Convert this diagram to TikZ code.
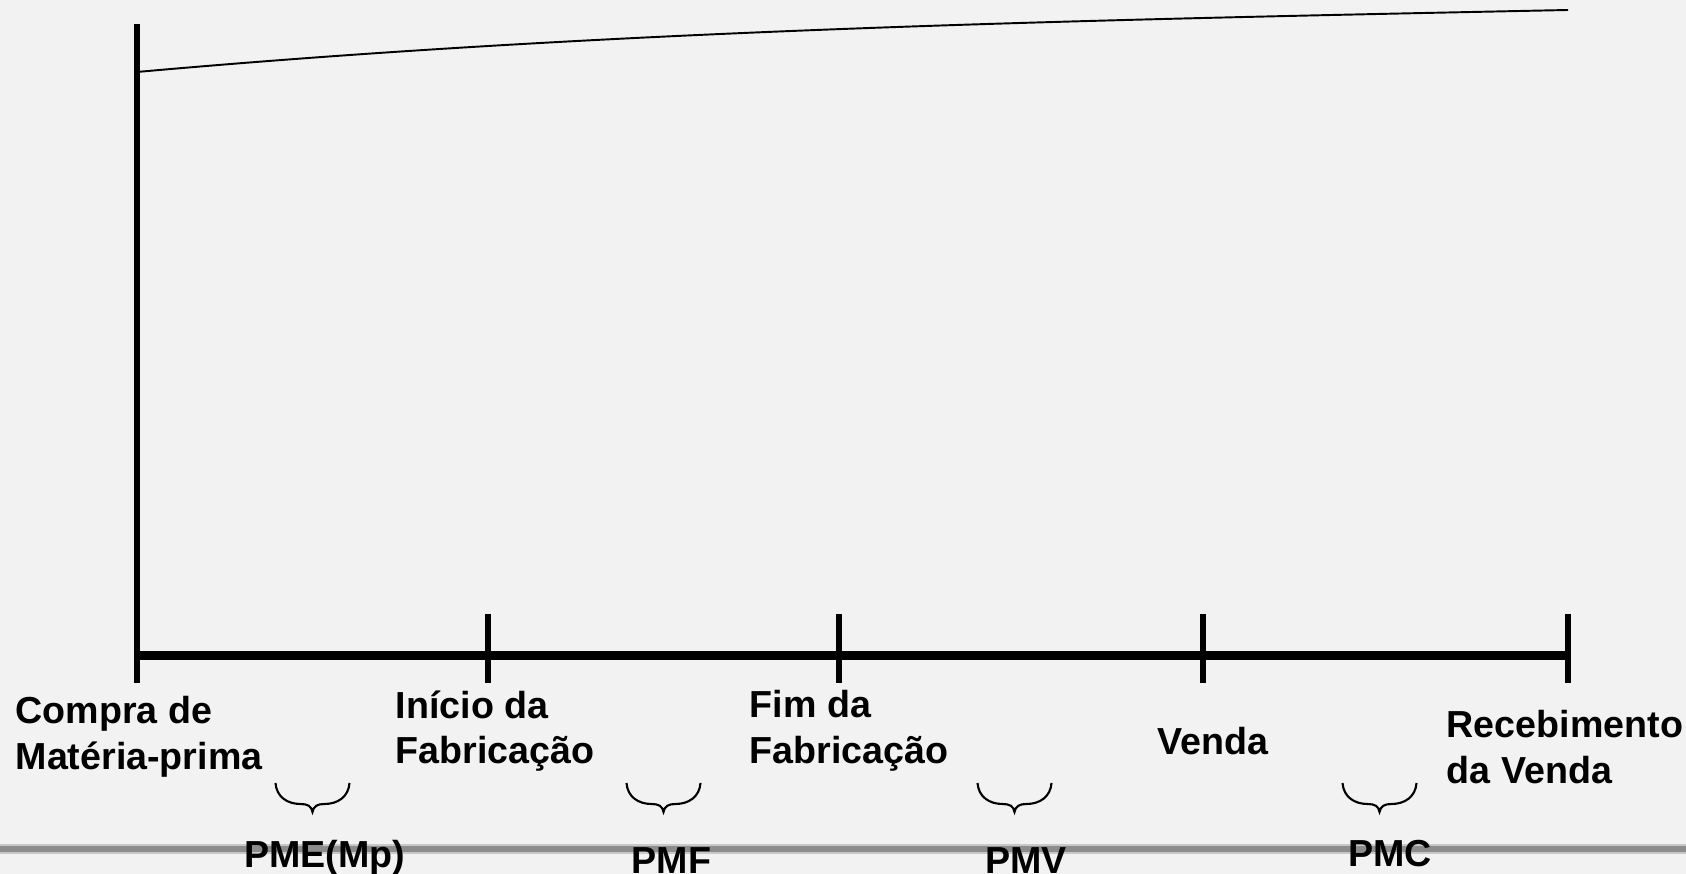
\documentclass[tikz,border=0pt]{standalone}
\usepackage{fontspec}
\setmainfont{Liberation Sans}
\usepackage{tikz}

\definecolor{fundo}{RGB}{242,242,242}
\definecolor{faixa}{RGB}{140,140,140}
\definecolor{faixaclara}{RGB}{200,200,200}

\begin{document}
\begin{tikzpicture}[x=0.01cm,y=-0.01cm,
    marco/.style={font=\bfseries\fontsize{10.7}{13}\selectfont, align=left, anchor=west, inner sep=0pt},
    prazo/.style={font=\bfseries\fontsize{10.7}{13}\selectfont, anchor=base, inner sep=0pt},
    eixo/.style={line width=0.09cm},
    marca/.style={line width=0.065cm},
    curva/.style={line width=0.55pt},
    chave/.pic={\draw[line width=0.6pt] (-37,0) .. controls (-36,14) and (-25,21) .. (-12,21)
        .. controls (-5,21) and (-1,23) .. (0,29) .. controls (1,23) and (5,21) .. (12,21)
        .. controls (25,21) and (36,14) .. (37,0);}]

    \fill[fundo] (0,0) rectangle (1686,874);
    \useasboundingbox (0,0) rectangle (1686,874);

    % faixa cinza de baixo
    \coordinate (f_0) at (0,849);
    \coordinate (f_1) at (1686,849);
    \draw[faixaclara, line width=0.1cm] (f_0) -- (f_1);
    \draw[faixa, line width=0.06cm] (f_0) -- (f_1);

    % eixos
    \coordinate (topo) at (137,24);
    \coordinate (t_0) at (137,656);
    \coordinate (t_1) at (488,656);
    \coordinate (t_2) at (839,656);
    \coordinate (t_3) at (1203,656);
    \coordinate (t_4) at (1568,656);
    \draw[eixo] (t_0) -- (t_4);
    \draw[marca] (topo) -- (137,683);
    \draw[marca] (t_1) ++(0,-42) -- ++(0,69);
    \draw[marca] (t_2) ++(0,-42) -- ++(0,69);
    \draw[marca] (t_3) ++(0,-42) -- ++(0,69);
    \draw[marca] (t_4) ++(0,-42) -- ++(0,69);

    % curva
    \coordinate (c_0) at (137,72);
    \coordinate (c_1) at (1568,10);
    \draw[curva] (c_0) .. controls (617,29) and (1088,20) .. (c_1);

    % marcos
    \node[marco] (l_0) at (15,737) {Compra de\\Matéria-prima};
    \node[marco] (l_1) at (395,731) {Início da\\Fabricação};
    \node[marco] (l_2) at (749,731) {Fim da\\Fabricação};
    \node[marco] (l_3) at (1157,741) {Venda};
    \node[marco] (l_4) at (1446,747) {Recebimento\\da Venda};

    % chaves
    \coordinate (b_0) at (312.5,783);
    \coordinate (b_1) at (663.5,783);
    \coordinate (b_2) at (1014.5,783);
    \coordinate (b_3) at (1379.5,783);
    \pic at (b_0) {chave};
    \pic at (b_1) {chave};
    \pic at (b_2) {chave};
    \pic at (b_3) {chave};

    % prazos
    \node[prazo] (p_0) at (324.5,867) {PME(Mp)};
    \node[prazo] (p_1) at (671.5,873) {PMF};
    \node[prazo] (p_2) at (1026,873) {PMV};
    \node[prazo] (p_3) at (1390,866) {PMC};
\end{tikzpicture}
\end{document}
